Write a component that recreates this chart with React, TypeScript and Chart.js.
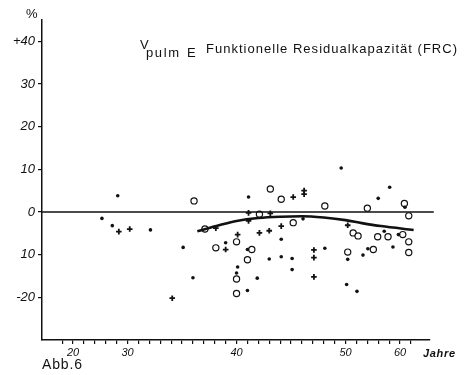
import { useEffect, useRef } from 'react';
import { Chart, registerables, LinearScale } from 'chart.js';

// ---- data ----
const xTickLabels = [20, 30, 40, 50, 60];
const yTicks = [-20, -10, 0, 10, 20, 30, 40];
const yTickLabels = ['-20', '10', '0', '10', '20', '30', '+40'];

const dotAges = [25.3, 27.2, 28.2, 32.1, 35.1, 36.0, 41.1, 39.0, 44.1, 41.0, 43.0, 44.1, 45.1, 45.1, 40.1, 40.0, 41.9, 41.0, 46.1, 49.6, 58.1, 56.0, 60.9, 57.1, 59.7, 58.7, 48.1, 54.1, 53.2, 50.4, 50.2, 52.1];
const dotValues = [-1.5, -3.2, 3.8, -4.2, -8.3, -15.4, 3.5, -7.2, -6.4, -8.8, -11.0, -10.5, -10.9, -13.5, -12.9, -14.3, -15.5, -18.4, -1.6, 10.3, 5.8, 3.2, 1.1, -4.5, -5.3, -8.2, -8.5, -8.6, -10.1, -11.1, -17.0, -18.6];

const plusAges = [28.4, 30.2, 34.1, 45.2, 46.2, 46.2, 41.1, 43.1, 38.1, 41.1, 40.1, 42.1, 43.0, 44.1, 39.0, 47.1, 47.1, 47.1, 50.4];
const plusValues = [-4.6, -4.0, -20.2, 3.5, 5.0, 4.2, -0.2, -0.3, -3.8, -2.1, -5.3, -4.9, -4.4, -3.3, -8.8, -8.9, -10.7, -15.2, -3.1];

const circleAges = [36.1, 43.1, 44.1, 42.1, 37.1, 45.2, 40.0, 38.1, 41.4, 41.0, 40.0, 40.0, 48.1, 54.0, 60.8, 61.6, 51.4, 52.3, 55.9, 57.8, 60.5, 61.6, 50.4, 55.1, 61.6];
const circleValues = [2.6, 5.4, 3.0, -0.5, -4.0, -2.5, -7.0, -8.4, -8.8, -11.2, -15.7, -19.1, 1.4, 0.9, 2.0, -0.9, -4.9, -5.6, -5.8, -5.8, -5.3, -7.0, -9.4, -8.8, -9.5];

const curveAges = [36.4, 38.4, 40, 42, 44, 46, 48, 50, 53, 56.5, 62.5];
const curveValues = [-4.5, -3.1, -2.1, -1.4, -1.1, -1.0, -1.3, -1.9, -2.6, -3.3, -4.2];

const zeroLineAges = [14.3, 66.2];
const zeroLineValues = [0, 0];

// ---- piecewise age axis (2 years per tick below 30 and above 50, 1 year between) ----
function ageToUnit(a: number) {
  if (a <= 30) return (a - 20) / 2;
  if (a <= 50) return 5 + (a - 30);
  return 25 + (a - 50) / 2;
}
function unitToAge(u: number) {
  if (u <= 5) return 20 + 2 * u;
  if (u <= 25) return 25 + u;
  return 50 + 2 * (u - 25);
}

class PiecewiseScale extends LinearScale {
  static id = 'piecewise';
  buildTicks() {
    const ticks: any[] = [];
    for (let u = -1; u <= 31; u++) ticks.push({ value: unitToAge(u) });
    return ticks;
  }
  getPixelForValue(v: number) {
    const u0 = ageToUnit((this as any).min);
    const u1 = ageToUnit((this as any).max);
    return (this as any).getPixelForDecimal((ageToUnit(v) - u0) / (u1 - u0));
  }
  getValueForPixel(p: number) {
    const u0 = ageToUnit((this as any).min);
    const u1 = ageToUnit((this as any).max);
    const d = (this as any).getDecimalForPixel(p);
    return unitToAge(u0 + d * (u1 - u0));
  }
}

Chart.register(...registerables, PiecewiseScale as any);

const toPts = (xs: number[], ys: number[]) => xs.map((x, i) => ({ x, y: ys[i] }));

function drawSpaced(ctx: CanvasRenderingContext2D, text: string, x: number, y: number, width: number, font: string) {
  ctx.font = font;
  (ctx as any).letterSpacing = '0px';
  const w = ctx.measureText(text).width;
  const ls = text.length > 1 ? (width - w) / (text.length - 1) : 0;
  (ctx as any).letterSpacing = `${ls}px`;
  ctx.fillText(text, x, y);
  (ctx as any).letterSpacing = '0px';
}

const textPlugin = {
  id: 'texts',
  afterDraw(chart: any) {
    const ctx: CanvasRenderingContext2D = chart.ctx;
    ctx.save();
    ctx.fillStyle = '#111';
    ctx.textBaseline = 'alphabetic';
    ctx.textAlign = 'left';
    drawSpaced(ctx, 'V', 140, 49, 7, '13px "Liberation Sans"');
    drawSpaced(ctx, 'pulm', 146, 57, 33, '13px "Liberation Sans"');
    drawSpaced(ctx, 'E', 187, 57, 9, '13px "Liberation Sans"');
    drawSpaced(ctx, 'Funktionelle Residualkapazität (FRC)', 206, 53, 251, '13px "Liberation Sans"');
    drawSpaced(ctx, '%', 26, 18, 11, '13px "Liberation Sans"');
    drawSpaced(ctx, 'Jahre', 423, 357, 32, 'italic bold 11px "Liberation Sans"');
    drawSpaced(ctx, 'Abb.6', 42, 369, 40, '14px "Liberation Sans"');
    ctx.restore();
  },
};

export default function App() {
  const ref = useRef<HTMLCanvasElement>(null);
  useEffect(() => {
    document.body.style.margin = '0';
    const chart = new Chart(ref.current!, {
      type: 'scatter',
      data: {
        datasets: [
          {
            type: 'line',
            data: toPts(zeroLineAges, zeroLineValues),
            borderColor: '#111',
            borderWidth: 1.5,
            pointRadius: 0,
            clip: false as any,
          } as any,
          {
            type: 'line',
            data: toPts(curveAges, curveValues),
            borderColor: '#111',
            borderWidth: 2.6,
            pointRadius: 0,
            cubicInterpolationMode: 'monotone',
          } as any,
          {
            data: toPts(dotAges, dotValues),
            pointStyle: 'circle',
            pointRadius: 1.8,
            backgroundColor: '#111',
            borderColor: '#111',
            borderWidth: 0,
          },
          {
            data: toPts(plusAges, plusValues),
            pointStyle: 'cross',
            pointRadius: 2.8,
            borderColor: '#111',
            borderWidth: 1.8,
          },
          {
            data: toPts(circleAges, circleValues),
            pointStyle: 'circle',
            pointRadius: 3.1,
            backgroundColor: '#fff',
            borderColor: '#111',
            borderWidth: 1.2,
          },
        ],
      },
      options: {
        responsive: false,
        animation: false,
        devicePixelRatio: 1,
        layout: { padding: { left: 0, top: 20, right: 39, bottom: 0 }, autoPadding: false },
        plugins: { legend: { display: false }, tooltip: { enabled: false } },
        scales: {
          x: {
            type: 'piecewise' as any,
            min: 14.3,
            max: 65.5,
            afterFit: (s: any) => { s.height = 35; },
            border: { display: true, color: '#111', width: 1.5 },
            grid: { display: true, drawOnChartArea: false, drawTicks: true, tickLength: 4, color: '#111', lineWidth: 1.2 },
            ticks: {
              autoSkip: false,
              maxRotation: 0,
              padding: 2,
              color: '#111',
              font: { family: '"Liberation Sans"', size: 11, style: 'italic' },
              callback: (v: any) => (xTickLabels.includes(Number(v)) ? String(v) : ''),
            },
          } as any,
          y: {
            type: 'linear',
            min: -30,
            max: 45,
            afterFit: (s: any) => { s.width = 42; },
            afterBuildTicks: (s: any) => { s.ticks = yTicks.map((v) => ({ value: v })); },
            border: { display: true, color: '#111', width: 1.5 },
            grid: { display: true, drawOnChartArea: false, drawTicks: true, tickLength: 4, color: '#111', lineWidth: 1.2 },
            ticks: {
              autoSkip: false,
              padding: 3,
              color: '#111',
              font: { family: '"Liberation Sans"', size: 13, style: 'italic' },
              callback: (v: any) => {
                const i = yTicks.indexOf(Number(v));
                return i >= 0 ? yTickLabels[i] : '';
              },
            },
          },
        },
      },
      plugins: [textPlugin],
    });
    return () => chart.destroy();
  }, []);
  return (
    <div style={{ position: 'fixed', left: 0, top: 0, width: 469, height: 375 }}>
      <canvas ref={ref} width={469} height={375} />
    </div>
  );
}
